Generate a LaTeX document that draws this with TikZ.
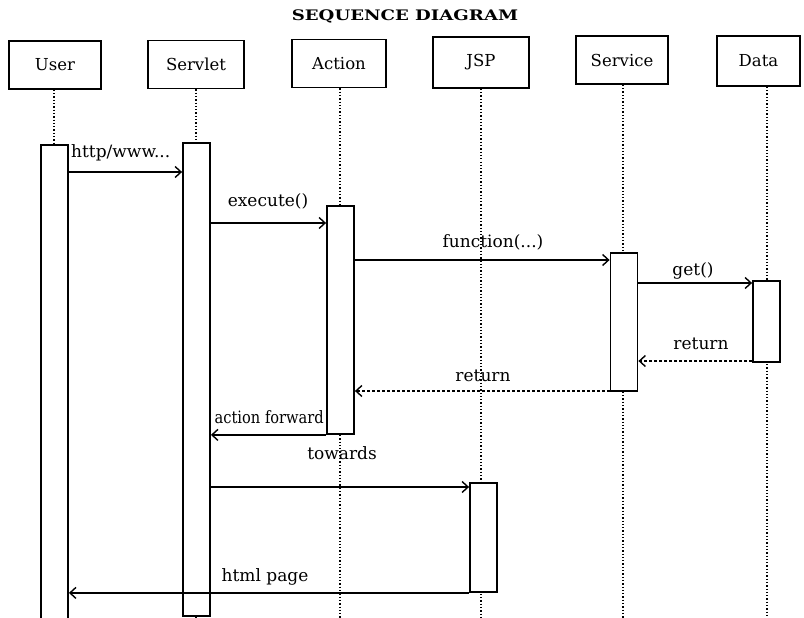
\documentclass[tikz,border=0pt]{standalone}
\usepackage{fontspec}
\usepackage{graphicx}
\setmainfont{DejaVu Serif}
\usetikzlibrary{arrows.meta}
\tikzset{
  head/.style={draw, line width=1.8pt, fill=white, minimum width=#1, minimum height=48pt, inner sep=0pt, font=\fontsize{16.5}{18}\selectfont},
  actbar/.style={draw, line width=1.8pt, fill=white, minimum width=27pt, inner sep=0pt},
  lifeline/.style={line width=1.3pt, dotted},
  msg/.style={line width=1.4pt, -{Straight Barb[length=6pt,width=11pt,line width=1.4pt]}},
  retmsg/.style={msg, dash pattern=on 3pt off 2pt},
  lbl/.style={font=\fontsize{17}{19}\selectfont, inner sep=1pt}
}
\begin{document}
\begin{tikzpicture}[x=1pt,y=-1pt]
\useasboundingbox (0,0) rectangle (804,618);
\clip (0,0) rectangle (804,618);
% title
\node[font=\bfseries\fontsize{14.5}{16}\selectfont] (title) at (405,16) {\scalebox{1.25}[1]{SEQUENCE DIAGRAM}};
% header boxes
\node[head=92pt] (user) at (55,65) {User};
\node[head=96pt] (servlet) at (196,64.5) {Servlet};
\node[head=94pt] (action) at (339,63.5) {Action};
\node[head=96pt, minimum height=51pt] (jsp) at (481,62.5) {JSP};
\node[head=92pt] (service) at (622,60) {Service};
\node[head=83pt, minimum height=50pt] (data) at (758.5,61) {Data};
% lifeline end points
\coordinate (ue) at (54,618);
\coordinate (se) at (196,618);
\coordinate (ae) at (340,618);
\coordinate (je) at (481,618);
\coordinate (sve) at (623,618);
\coordinate (de) at (767,618);
\draw[lifeline] (user.south -| ue) -- (ue);
\draw[lifeline] (servlet.south -| se) -- (se);
\draw[lifeline] (action.south -| ae) -- (ae);
\draw[lifeline] (jsp.south -| je) -- (je);
\draw[lifeline] (service.south -| sve) -- (sve);
\draw[lifeline] (data.south -| de) -- (de);
% activation bars
\node[actbar, minimum height=480pt] (ubar) at (54.5,385) {};
\node[actbar, minimum height=473pt] (sbar) at (196.5,379.5) {};
\node[actbar, minimum height=228pt] (abar) at (340.5,320) {};
\node[actbar, minimum height=138pt] (svbar) at (624,322) {};
\node[actbar, minimum height=81pt] (dbar) at (766.5,321.5) {};
\node[actbar, minimum height=109pt] (jbar) at (483.5,537.5) {};
% messages
\draw[msg] (ubar.east |- 0,172) -- (sbar.west |- 0,172);
\node[lbl, anchor=west] (l1) at (70,153) {http/www...};
\draw[msg] (sbar.east |- 0,223) -- (abar.west |- 0,223);
\node[lbl] (l2) at (268,201) {execute()};
\draw[msg] (abar.east |- 0,260) -- (svbar.west |- 0,260);
\node[lbl] (l3) at (493,242) {function(...)};
\draw[msg] (svbar.east |- 0,283) -- (dbar.west |- 0,283);
\node[lbl] (l4) at (693,271) {get()};
\draw[retmsg] (dbar.west |- 0,361) -- (svbar.east |- 0,361);
\node[lbl] (l5) at (701,344) {return};
\draw[retmsg] (svbar.west |- 0,391) -- (abar.east |- 0,391);
\node[lbl] (l6) at (483,376) {return};
\draw[msg] (abar.south west) -- (sbar.east |- abar.south);
\node[lbl, anchor=east] (l7) at (325,417) {\scalebox{0.86}[1]{action forward}};
\node[lbl] (l8) at (342,453) {towards};
\draw[msg] (sbar.east |- 0,487) -- (jbar.west |- 0,487);
\draw[msg] (jbar.south west) -- (ubar.east |- jbar.south west);
\node[lbl] (l9) at (265,577) {html page};
\end{tikzpicture}
\end{document}
